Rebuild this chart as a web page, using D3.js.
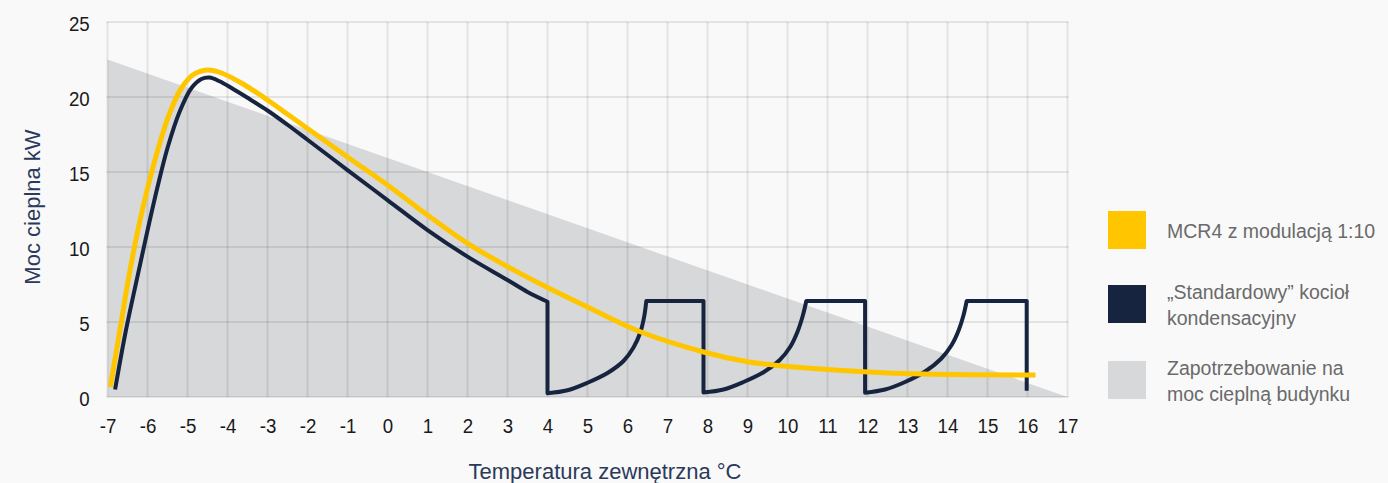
<!DOCTYPE html>
<html><head><meta charset="utf-8">
<script src="https://cdn.jsdelivr.net/npm/d3@7/dist/d3.min.js"></script>
<style>
body{margin:0;background:#f9f9f9;}
svg{display:block;font-family:"Liberation Sans",Arial,Helvetica,sans-serif;}
</style></head><body>
<svg id="c" width="1388" height="483"></svg>
<script>
// ---- data ----
const xTickValues = [-7,-6,-5,-4,-3,-2,-1,0,1,2,3,4,5,6,7,8,9,10,11,12,13,14,15,16,17];
const yTickValues = [0,5,10,15,20,25];
const demand = [[-7,22.5],[17,0]];
const mcr4 = [[-6.93,0.67],[-6.7,4.3],[-6.48,7.8],[-6.25,11.0],[-6.0,13.9],[-5.75,16.4],[-5.45,18.9],[-5.15,20.6],[-4.85,21.5],[-4.5,21.8],[-4.15,21.6],[-3.6,20.85],[-3,19.8],[-2.5,18.85],[-2,17.9],[-1,16.0],[0,14.13],[1,12.13],[2,10.24],[3,8.69],[4,7.3],[5,6.0],[6.27,4.4],[7.9,3.0],[9,2.35],[9.8,2.09],[11.9,1.69],[13.4,1.53],[16.2,1.47]];
const standardRamp = [[-6.81,0.5],[-6.55,4.3],[-6.27,7.8],[-6.0,11.1],[-5.75,14.0],[-5.5,16.6],[-5.2,19.0],[-4.9,20.6],[-4.65,21.2],[-4.45,21.3],[-4.2,21.05],[-3.9,20.6],[-3.5,19.95],[-3,19.1],[-2.5,18.15],[-2,17.15],[-1,15.13],[0,13.13],[1,11.13],[2,9.36],[3,7.8],[3.5,7.0],[4,6.35]];
const standardArc1 = [[4,0.25],[4.5,0.45],[5.0,0.95],[5.5,1.6],[5.9,2.4],[6.15,3.3],[6.32,4.3],[6.42,5.4],[6.47,6.4]];
const standardArc2 = [[7.9,0.3],[8.4,0.5],[8.9,1.0],[9.4,1.65],[9.8,2.45],[10.07,3.35],[10.25,4.35],[10.38,5.4],[10.47,6.4]];
const standardArc3 = [[11.94,0.29],[12.44,0.5],[12.94,1.0],[13.44,1.7],[13.84,2.55],[14.1,3.45],[14.28,4.45],[14.4,5.45],[14.48,6.4]];
const standardTopEnds = [7.9, 11.94, 15.98];
const standardLastDrop = 0.42;
const legendColors = ["#ffc600","#17243f","#d7d8da"];
const legendLines = [["MCR4 z modulacją 1:10"],["„Standardowy” kocioł","kondensacyjny"],["Zapotrzebowanie na","moc cieplną budynku"]];

// ---- layout ----
const svg = d3.select("#c");
const x = d3.scaleLinear().domain([-7,17]).range([107.5,1067.5]);
const y = d3.scaleLinear().domain([0,25]).range([397,22]);

// demand area
const area = d3.area().x(d=>x(d[0])).y0(y(0)).y1(d=>y(d[1]));
svg.append("path").datum(demand).attr("d",area).attr("fill","#d7d8da");

// grid
const grid = svg.append("g").attr("stroke","#000").attr("stroke-opacity",0.085).attr("stroke-width",2);
grid.selectAll("line.v").data(xTickValues).join("line").attr("class","v")
  .attr("x1",d=>x(d)).attr("x2",d=>x(d)).attr("y1",y(0)).attr("y2",y(25));
grid.selectAll("line.h").data(yTickValues).join("line").attr("class","h")
  .attr("x1",x(-7)-1).attr("x2",x(17)+1).attr("y1",d=>y(d)).attr("y2",d=>y(d));

// axes
const fmt = d => String(d);
const xAxis = svg.append("g").attr("transform",`translate(0,${y(0)})`)
  .call(d3.axisBottom(x).tickValues(xTickValues).tickSize(0).tickPadding(22).tickFormat(fmt));
const yAxis = svg.append("g").attr("transform",`translate(${x(-7)},0)`)
  .call(d3.axisLeft(y).tickValues(yTickValues).tickSize(0).tickPadding(20).tickFormat(fmt));
[xAxis,yAxis].forEach(a=>{
  a.select(".domain").remove();
  a.selectAll("text").attr("font-size",21).attr("fill","#1a1a1a")
   .attr("font-family",'"Liberation Sans",Arial,sans-serif').attr("transform","scale(0.89,1)");
});
xAxis.selectAll("text").attr("dy","0.68em");
yAxis.selectAll("text").attr("dy","0.42em");

// lines
const smooth = d3.line().x(d=>x(d[0])).y(d=>y(d[1])).curve(d3.curveCatmullRom.alpha(0.5));
const straight = d3.line().x(d=>x(d[0])).y(d=>y(d[1]));
const cont = s => s.replace(/^M/,"L");

let nav = smooth(standardRamp);
let last = standardRamp[standardRamp.length-1];
[standardArc1,standardArc2,standardArc3].forEach((arc,i)=>{
  nav += cont(straight([last, arc[0]]));
  nav += cont(smooth(arc));
  const end = arc[arc.length-1];
  last = [standardTopEnds[i], end[1]];
  nav += cont(straight([end, last]));
});
nav += cont(straight([last,[last[0],standardLastDrop]]));

svg.append("path").attr("d",nav).attr("fill","none").attr("stroke","#17243f")
  .attr("stroke-width",4).attr("stroke-linejoin","round").attr("stroke-linecap","butt");
svg.append("path").datum(mcr4).attr("d",smooth).attr("fill","none").attr("stroke","#ffc600")
  .attr("stroke-width",5).attr("stroke-linecap","butt");

// titles
svg.append("text").attr("x",605).attr("y",479).attr("text-anchor","middle")
  .attr("font-size",22).attr("fill","#2b3a5a").text("Temperatura zewnętrzna °C");
svg.append("text").attr("transform","translate(40,207) rotate(-90)").attr("text-anchor","middle")
  .attr("font-size",22).attr("fill","#2b3a5a").text("Moc cieplna kW");

// legend
const legY = [211,285,361];
const leg = svg.append("g");
legendColors.forEach((c,i)=>{
  leg.append("rect").attr("x",1108).attr("y",legY[i]).attr("width",38).attr("height",38).attr("fill",c);
  const lines = legendLines[i];
  const base = lines.length===1 ? [legY[i]+27] : [legY[i]+14, legY[i]+40];
  lines.forEach((t,j)=>{
    leg.append("text").attr("x",1167).attr("y",base[j]).attr("font-size",19.5).attr("fill","#6a6a6a").text(t);
  });
});
</script>
</body></html>
